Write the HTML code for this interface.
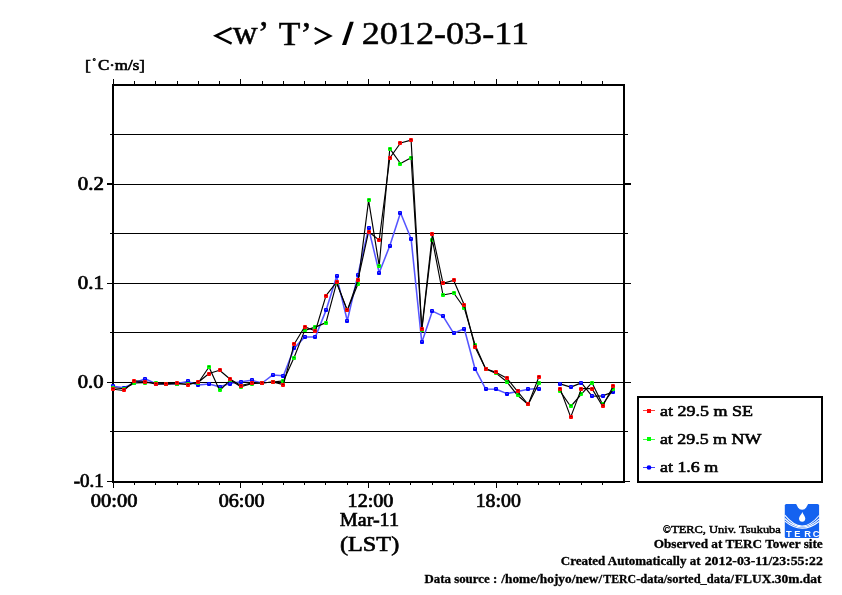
<!DOCTYPE html>
<html><head><meta charset="utf-8"><title>w'T' 2012-03-11</title>
<style>
html,body{margin:0;padding:0;background:#fff;}
body{width:842px;height:595px;overflow:hidden;font-family:"Liberation Serif",serif;}
svg{display:block;}
.t{font-family:"Liberation Serif",serif;fill:#000;stroke:#000;}
</style></head><body>
<svg width="842" height="595" viewBox="0 0 842 595">
<rect width="842" height="595" fill="#fff"/>
<g shape-rendering="crispEdges">
<rect x="113" y="134" width="511" height="1" fill="#000"/>
<rect x="113" y="184" width="511" height="1" fill="#000"/>
<rect x="113" y="233" width="511" height="1" fill="#000"/>
<rect x="113" y="283" width="511" height="1" fill="#000"/>
<rect x="113" y="332" width="511" height="1" fill="#000"/>
<rect x="113" y="382" width="511" height="1" fill="#000"/>
<rect x="113" y="431" width="511" height="1" fill="#000"/>
<rect x="112" y="84" width="2" height="399" fill="#000"/>
<rect x="623" y="84" width="2" height="399" fill="#000"/>
<rect x="112" y="84" width="513" height="2" fill="#000"/>
<rect x="112" y="481" width="513" height="2" fill="#000"/>
<rect x="113" y="79" width="1" height="5" fill="#000"/>
<rect x="113" y="483" width="1" height="5" fill="#000"/>
<rect x="134" y="81" width="1" height="3" fill="#000"/>
<rect x="134" y="483" width="1" height="2" fill="#000"/>
<rect x="155" y="81" width="1" height="3" fill="#000"/>
<rect x="155" y="483" width="1" height="2" fill="#000"/>
<rect x="177" y="81" width="1" height="3" fill="#000"/>
<rect x="177" y="483" width="1" height="2" fill="#000"/>
<rect x="198" y="81" width="1" height="3" fill="#000"/>
<rect x="198" y="483" width="1" height="2" fill="#000"/>
<rect x="219" y="81" width="1" height="3" fill="#000"/>
<rect x="219" y="483" width="1" height="2" fill="#000"/>
<rect x="240" y="79" width="1" height="5" fill="#000"/>
<rect x="240" y="483" width="1" height="5" fill="#000"/>
<rect x="262" y="81" width="1" height="3" fill="#000"/>
<rect x="262" y="483" width="1" height="2" fill="#000"/>
<rect x="283" y="81" width="1" height="3" fill="#000"/>
<rect x="283" y="483" width="1" height="2" fill="#000"/>
<rect x="304" y="81" width="1" height="3" fill="#000"/>
<rect x="304" y="483" width="1" height="2" fill="#000"/>
<rect x="325" y="81" width="1" height="3" fill="#000"/>
<rect x="325" y="483" width="1" height="2" fill="#000"/>
<rect x="347" y="81" width="1" height="3" fill="#000"/>
<rect x="347" y="483" width="1" height="2" fill="#000"/>
<rect x="368" y="79" width="1" height="5" fill="#000"/>
<rect x="368" y="483" width="1" height="5" fill="#000"/>
<rect x="389" y="81" width="1" height="3" fill="#000"/>
<rect x="389" y="483" width="1" height="2" fill="#000"/>
<rect x="410" y="81" width="1" height="3" fill="#000"/>
<rect x="410" y="483" width="1" height="2" fill="#000"/>
<rect x="432" y="81" width="1" height="3" fill="#000"/>
<rect x="432" y="483" width="1" height="2" fill="#000"/>
<rect x="453" y="81" width="1" height="3" fill="#000"/>
<rect x="453" y="483" width="1" height="2" fill="#000"/>
<rect x="474" y="81" width="1" height="3" fill="#000"/>
<rect x="474" y="483" width="1" height="2" fill="#000"/>
<rect x="496" y="79" width="1" height="5" fill="#000"/>
<rect x="496" y="483" width="1" height="5" fill="#000"/>
<rect x="517" y="81" width="1" height="3" fill="#000"/>
<rect x="517" y="483" width="1" height="2" fill="#000"/>
<rect x="538" y="81" width="1" height="3" fill="#000"/>
<rect x="538" y="483" width="1" height="2" fill="#000"/>
<rect x="559" y="81" width="1" height="3" fill="#000"/>
<rect x="559" y="483" width="1" height="2" fill="#000"/>
<rect x="581" y="81" width="1" height="3" fill="#000"/>
<rect x="581" y="483" width="1" height="2" fill="#000"/>
<rect x="602" y="81" width="1" height="3" fill="#000"/>
<rect x="602" y="483" width="1" height="2" fill="#000"/>
<rect x="107" y="481" width="5" height="1" fill="#000"/>
<rect x="625" y="481" width="5" height="1" fill="#000"/>
<rect x="110" y="431" width="2" height="1" fill="#000"/>
<rect x="625" y="431" width="3" height="1" fill="#000"/>
<rect x="107" y="382" width="5" height="1" fill="#000"/>
<rect x="625" y="382" width="6" height="1" fill="#000"/>
<rect x="110" y="332" width="2" height="1" fill="#000"/>
<rect x="625" y="332" width="3" height="1" fill="#000"/>
<rect x="107" y="283" width="5" height="1" fill="#000"/>
<rect x="625" y="283" width="6" height="1" fill="#000"/>
<rect x="110" y="233" width="2" height="1" fill="#000"/>
<rect x="625" y="233" width="3" height="1" fill="#000"/>
<rect x="107" y="183" width="5" height="2" fill="#000"/>
<rect x="625" y="183" width="6" height="2" fill="#000"/>
<rect x="110" y="134" width="2" height="1" fill="#000"/>
<rect x="625" y="134" width="3" height="1" fill="#000"/>
</g>
<g>
<polyline fill="none" stroke="#5555ff" stroke-width="1.55" stroke-linejoin="round" points="113.2,386.2 123.8,387.7 134.5,383.0 145.1,378.7 155.8,383.7 166.4,383.9 177.0,383.5 187.7,381.4 198.3,384.9 209.0,383.9 219.6,386.8 230.2,383.6 240.9,381.8 251.5,380.3 262.2,383.0 272.8,374.9 283.4,375.8 294.1,348.4 304.7,336.9 315.4,336.9 326.0,310.4 336.6,276.4 347.3,320.7 357.9,275.0 368.6,228.3 379.2,272.7 389.8,245.8 400.5,212.7 411.1,238.7 421.8,342.5 432.4,311.1 443.0,316.1 453.7,333.3 464.3,328.7 475.0,368.7 485.6,388.9 496.2,389.2 506.9,393.6 517.5,391.4 528.2,389.2 538.8,388.6"/>
<polyline fill="none" stroke="#000" stroke-width="1.15" stroke-linejoin="round" points="560.1,383.9 570.7,387.1 581.4,382.9 592.0,396.2 602.6,395.9 613.3,391.8"/>
<g shape-rendering="crispEdges"><rect x="111" y="384" width="4" height="4" rx="1.1" fill="#0000ff" shape-rendering="auto"/>
<rect x="112" y="385" width="2" height="1" fill="#3c3cf0"/>
<rect x="122" y="386" width="4" height="4" rx="1.1" fill="#0000ff" shape-rendering="auto"/>
<rect x="123" y="387" width="2" height="1" fill="#3c3cf0"/>
<rect x="132" y="381" width="4" height="4" rx="1.1" fill="#0000ff" shape-rendering="auto"/>
<rect x="133" y="382" width="2" height="1" fill="#3c3cf0"/>
<rect x="143" y="377" width="4" height="4" rx="1.1" fill="#0000ff" shape-rendering="auto"/>
<rect x="144" y="378" width="2" height="1" fill="#3c3cf0"/>
<rect x="154" y="382" width="4" height="4" rx="1.1" fill="#0000ff" shape-rendering="auto"/>
<rect x="155" y="383" width="2" height="1" fill="#3c3cf0"/>
<rect x="164" y="382" width="4" height="4" rx="1.1" fill="#0000ff" shape-rendering="auto"/>
<rect x="165" y="383" width="2" height="1" fill="#3c3cf0"/>
<rect x="175" y="382" width="4" height="4" rx="1.1" fill="#0000ff" shape-rendering="auto"/>
<rect x="176" y="383" width="2" height="1" fill="#3c3cf0"/>
<rect x="186" y="379" width="4" height="4" rx="1.1" fill="#0000ff" shape-rendering="auto"/>
<rect x="187" y="380" width="2" height="1" fill="#3c3cf0"/>
<rect x="196" y="383" width="4" height="4" rx="1.1" fill="#0000ff" shape-rendering="auto"/>
<rect x="197" y="384" width="2" height="1" fill="#3c3cf0"/>
<rect x="207" y="382" width="4" height="4" rx="1.1" fill="#0000ff" shape-rendering="auto"/>
<rect x="208" y="383" width="2" height="1" fill="#3c3cf0"/>
<rect x="218" y="385" width="4" height="4" rx="1.1" fill="#0000ff" shape-rendering="auto"/>
<rect x="219" y="386" width="2" height="1" fill="#3c3cf0"/>
<rect x="228" y="382" width="4" height="4" rx="1.1" fill="#0000ff" shape-rendering="auto"/>
<rect x="229" y="383" width="2" height="1" fill="#3c3cf0"/>
<rect x="239" y="380" width="4" height="4" rx="1.1" fill="#0000ff" shape-rendering="auto"/>
<rect x="240" y="381" width="2" height="1" fill="#3c3cf0"/>
<rect x="250" y="378" width="4" height="4" rx="1.1" fill="#0000ff" shape-rendering="auto"/>
<rect x="251" y="379" width="2" height="1" fill="#3c3cf0"/>
<rect x="260" y="381" width="4" height="4" rx="1.1" fill="#0000ff" shape-rendering="auto"/>
<rect x="261" y="382" width="2" height="1" fill="#3c3cf0"/>
<rect x="271" y="373" width="4" height="4" rx="1.1" fill="#0000ff" shape-rendering="auto"/>
<rect x="272" y="374" width="2" height="1" fill="#3c3cf0"/>
<rect x="281" y="374" width="4" height="4" rx="1.1" fill="#0000ff" shape-rendering="auto"/>
<rect x="282" y="375" width="2" height="1" fill="#3c3cf0"/>
<rect x="292" y="346" width="4" height="4" rx="1.1" fill="#0000ff" shape-rendering="auto"/>
<rect x="293" y="347" width="2" height="1" fill="#3c3cf0"/>
<rect x="303" y="335" width="4" height="4" rx="1.1" fill="#0000ff" shape-rendering="auto"/>
<rect x="304" y="336" width="2" height="1" fill="#3c3cf0"/>
<rect x="313" y="335" width="4" height="4" rx="1.1" fill="#0000ff" shape-rendering="auto"/>
<rect x="314" y="336" width="2" height="1" fill="#3c3cf0"/>
<rect x="324" y="308" width="4" height="4" rx="1.1" fill="#0000ff" shape-rendering="auto"/>
<rect x="325" y="309" width="2" height="1" fill="#3c3cf0"/>
<rect x="335" y="274" width="4" height="4" rx="1.1" fill="#0000ff" shape-rendering="auto"/>
<rect x="336" y="275" width="2" height="1" fill="#3c3cf0"/>
<rect x="345" y="319" width="4" height="4" rx="1.1" fill="#0000ff" shape-rendering="auto"/>
<rect x="346" y="320" width="2" height="1" fill="#3c3cf0"/>
<rect x="356" y="273" width="4" height="4" rx="1.1" fill="#0000ff" shape-rendering="auto"/>
<rect x="357" y="274" width="2" height="1" fill="#3c3cf0"/>
<rect x="367" y="226" width="4" height="4" rx="1.1" fill="#0000ff" shape-rendering="auto"/>
<rect x="368" y="227" width="2" height="1" fill="#3c3cf0"/>
<rect x="377" y="271" width="4" height="4" rx="1.1" fill="#0000ff" shape-rendering="auto"/>
<rect x="378" y="272" width="2" height="1" fill="#3c3cf0"/>
<rect x="388" y="244" width="4" height="4" rx="1.1" fill="#0000ff" shape-rendering="auto"/>
<rect x="389" y="245" width="2" height="1" fill="#3c3cf0"/>
<rect x="398" y="211" width="4" height="4" rx="1.1" fill="#0000ff" shape-rendering="auto"/>
<rect x="399" y="212" width="2" height="1" fill="#3c3cf0"/>
<rect x="409" y="237" width="4" height="4" rx="1.1" fill="#0000ff" shape-rendering="auto"/>
<rect x="410" y="238" width="2" height="1" fill="#3c3cf0"/>
<rect x="420" y="340" width="4" height="4" rx="1.1" fill="#0000ff" shape-rendering="auto"/>
<rect x="421" y="341" width="2" height="1" fill="#3c3cf0"/>
<rect x="430" y="309" width="4" height="4" rx="1.1" fill="#0000ff" shape-rendering="auto"/>
<rect x="431" y="310" width="2" height="1" fill="#3c3cf0"/>
<rect x="441" y="314" width="4" height="4" rx="1.1" fill="#0000ff" shape-rendering="auto"/>
<rect x="442" y="315" width="2" height="1" fill="#3c3cf0"/>
<rect x="452" y="331" width="4" height="4" rx="1.1" fill="#0000ff" shape-rendering="auto"/>
<rect x="453" y="332" width="2" height="1" fill="#3c3cf0"/>
<rect x="462" y="327" width="4" height="4" rx="1.1" fill="#0000ff" shape-rendering="auto"/>
<rect x="463" y="328" width="2" height="1" fill="#3c3cf0"/>
<rect x="473" y="367" width="4" height="4" rx="1.1" fill="#0000ff" shape-rendering="auto"/>
<rect x="474" y="368" width="2" height="1" fill="#3c3cf0"/>
<rect x="484" y="387" width="4" height="4" rx="1.1" fill="#0000ff" shape-rendering="auto"/>
<rect x="485" y="388" width="2" height="1" fill="#3c3cf0"/>
<rect x="494" y="387" width="4" height="4" rx="1.1" fill="#0000ff" shape-rendering="auto"/>
<rect x="495" y="388" width="2" height="1" fill="#3c3cf0"/>
<rect x="505" y="392" width="4" height="4" rx="1.1" fill="#0000ff" shape-rendering="auto"/>
<rect x="506" y="393" width="2" height="1" fill="#3c3cf0"/>
<rect x="516" y="389" width="4" height="4" rx="1.1" fill="#0000ff" shape-rendering="auto"/>
<rect x="517" y="390" width="2" height="1" fill="#3c3cf0"/>
<rect x="526" y="387" width="4" height="4" rx="1.1" fill="#0000ff" shape-rendering="auto"/>
<rect x="527" y="388" width="2" height="1" fill="#3c3cf0"/>
<rect x="537" y="387" width="4" height="4" rx="1.1" fill="#0000ff" shape-rendering="auto"/>
<rect x="538" y="388" width="2" height="1" fill="#3c3cf0"/>
<rect x="558" y="382" width="4" height="4" rx="1.1" fill="#0000ff" shape-rendering="auto"/>
<rect x="559" y="383" width="2" height="1" fill="#3c3cf0"/>
<rect x="569" y="385" width="4" height="4" rx="1.1" fill="#0000ff" shape-rendering="auto"/>
<rect x="570" y="386" width="2" height="1" fill="#3c3cf0"/>
<rect x="579" y="381" width="4" height="4" rx="1.1" fill="#0000ff" shape-rendering="auto"/>
<rect x="580" y="382" width="2" height="1" fill="#3c3cf0"/>
<rect x="590" y="394" width="4" height="4" rx="1.1" fill="#0000ff" shape-rendering="auto"/>
<rect x="591" y="395" width="2" height="1" fill="#3c3cf0"/>
<rect x="601" y="394" width="4" height="4" rx="1.1" fill="#0000ff" shape-rendering="auto"/>
<rect x="602" y="395" width="2" height="1" fill="#3c3cf0"/>
<rect x="611" y="390" width="4" height="4" rx="1.1" fill="#0000ff" shape-rendering="auto"/>
<rect x="612" y="391" width="2" height="1" fill="#3c3cf0"/></g>
<polyline fill="none" stroke="#000" stroke-width="1.15" stroke-linejoin="round" points="113.2,387.7 123.8,388.7 134.5,383.0 145.1,382.7 155.8,382.7 166.4,383.9 177.0,384.0 187.7,383.9 198.3,382.7 209.0,367.0 219.6,390.5 230.2,380.1 240.9,386.8 251.5,383.6 262.2,383.0 272.8,382.0 283.4,380.9 294.1,357.5 304.7,330.4 315.4,327.1 326.0,322.6 336.6,282.9 347.3,310.4 357.9,284.0 368.6,200.4 379.2,265.6 389.8,148.7 400.5,163.5 411.1,157.8 421.8,330.2 432.4,240.0 443.0,295.0 453.7,293.0 464.3,308.0 475.0,344.7 485.6,368.7 496.2,373.4 506.9,381.8 517.5,395.3 528.2,404.5 538.8,383.4"/>
<polyline fill="none" stroke="#000" stroke-width="1.15" stroke-linejoin="round" points="560.1,391.2 570.7,406.5 581.4,394.1 592.0,382.7 602.6,404.5 613.3,389.4"/>
<g shape-rendering="crispEdges"><rect x="111" y="386" width="4" height="4" rx="1.1" fill="#00ff00" shape-rendering="auto"/>
<rect x="112" y="387" width="2" height="1" fill="#00a000"/>
<rect x="122" y="387" width="4" height="4" rx="1.1" fill="#00ff00" shape-rendering="auto"/>
<rect x="123" y="388" width="2" height="1" fill="#00a000"/>
<rect x="132" y="381" width="4" height="4" rx="1.1" fill="#00ff00" shape-rendering="auto"/>
<rect x="133" y="382" width="2" height="1" fill="#00a000"/>
<rect x="143" y="381" width="4" height="4" rx="1.1" fill="#00ff00" shape-rendering="auto"/>
<rect x="144" y="382" width="2" height="1" fill="#00a000"/>
<rect x="154" y="381" width="4" height="4" rx="1.1" fill="#00ff00" shape-rendering="auto"/>
<rect x="155" y="382" width="2" height="1" fill="#00a000"/>
<rect x="164" y="382" width="4" height="4" rx="1.1" fill="#00ff00" shape-rendering="auto"/>
<rect x="165" y="383" width="2" height="1" fill="#00a000"/>
<rect x="175" y="382" width="4" height="4" rx="1.1" fill="#00ff00" shape-rendering="auto"/>
<rect x="176" y="383" width="2" height="1" fill="#00a000"/>
<rect x="186" y="382" width="4" height="4" rx="1.1" fill="#00ff00" shape-rendering="auto"/>
<rect x="187" y="383" width="2" height="1" fill="#00a000"/>
<rect x="196" y="381" width="4" height="4" rx="1.1" fill="#00ff00" shape-rendering="auto"/>
<rect x="197" y="382" width="2" height="1" fill="#00a000"/>
<rect x="207" y="365" width="4" height="4" rx="1.1" fill="#00ff00" shape-rendering="auto"/>
<rect x="208" y="366" width="2" height="1" fill="#00a000"/>
<rect x="218" y="388" width="4" height="4" rx="1.1" fill="#00ff00" shape-rendering="auto"/>
<rect x="219" y="389" width="2" height="1" fill="#00a000"/>
<rect x="228" y="378" width="4" height="4" rx="1.1" fill="#00ff00" shape-rendering="auto"/>
<rect x="229" y="379" width="2" height="1" fill="#00a000"/>
<rect x="239" y="385" width="4" height="4" rx="1.1" fill="#00ff00" shape-rendering="auto"/>
<rect x="240" y="386" width="2" height="1" fill="#00a000"/>
<rect x="250" y="382" width="4" height="4" rx="1.1" fill="#00ff00" shape-rendering="auto"/>
<rect x="251" y="383" width="2" height="1" fill="#00a000"/>
<rect x="260" y="381" width="4" height="4" rx="1.1" fill="#00ff00" shape-rendering="auto"/>
<rect x="261" y="382" width="2" height="1" fill="#00a000"/>
<rect x="271" y="380" width="4" height="4" rx="1.1" fill="#00ff00" shape-rendering="auto"/>
<rect x="272" y="381" width="2" height="1" fill="#00a000"/>
<rect x="281" y="379" width="4" height="4" rx="1.1" fill="#00ff00" shape-rendering="auto"/>
<rect x="282" y="380" width="2" height="1" fill="#00a000"/>
<rect x="292" y="356" width="4" height="4" rx="1.1" fill="#00ff00" shape-rendering="auto"/>
<rect x="293" y="357" width="2" height="1" fill="#00a000"/>
<rect x="303" y="328" width="4" height="4" rx="1.1" fill="#00ff00" shape-rendering="auto"/>
<rect x="304" y="329" width="2" height="1" fill="#00a000"/>
<rect x="313" y="325" width="4" height="4" rx="1.1" fill="#00ff00" shape-rendering="auto"/>
<rect x="314" y="326" width="2" height="1" fill="#00a000"/>
<rect x="324" y="321" width="4" height="4" rx="1.1" fill="#00ff00" shape-rendering="auto"/>
<rect x="325" y="322" width="2" height="1" fill="#00a000"/>
<rect x="335" y="281" width="4" height="4" rx="1.1" fill="#00ff00" shape-rendering="auto"/>
<rect x="336" y="282" width="2" height="1" fill="#00a000"/>
<rect x="345" y="308" width="4" height="4" rx="1.1" fill="#00ff00" shape-rendering="auto"/>
<rect x="346" y="309" width="2" height="1" fill="#00a000"/>
<rect x="356" y="282" width="4" height="4" rx="1.1" fill="#00ff00" shape-rendering="auto"/>
<rect x="357" y="283" width="2" height="1" fill="#00a000"/>
<rect x="367" y="198" width="4" height="4" rx="1.1" fill="#00ff00" shape-rendering="auto"/>
<rect x="368" y="199" width="2" height="1" fill="#00a000"/>
<rect x="377" y="264" width="4" height="4" rx="1.1" fill="#00ff00" shape-rendering="auto"/>
<rect x="378" y="265" width="2" height="1" fill="#00a000"/>
<rect x="388" y="147" width="4" height="4" rx="1.1" fill="#00ff00" shape-rendering="auto"/>
<rect x="389" y="148" width="2" height="1" fill="#00a000"/>
<rect x="398" y="162" width="4" height="4" rx="1.1" fill="#00ff00" shape-rendering="auto"/>
<rect x="399" y="163" width="2" height="1" fill="#00a000"/>
<rect x="409" y="156" width="4" height="4" rx="1.1" fill="#00ff00" shape-rendering="auto"/>
<rect x="410" y="157" width="2" height="1" fill="#00a000"/>
<rect x="420" y="328" width="4" height="4" rx="1.1" fill="#00ff00" shape-rendering="auto"/>
<rect x="421" y="329" width="2" height="1" fill="#00a000"/>
<rect x="430" y="238" width="4" height="4" rx="1.1" fill="#00ff00" shape-rendering="auto"/>
<rect x="431" y="239" width="2" height="1" fill="#00a000"/>
<rect x="441" y="293" width="4" height="4" rx="1.1" fill="#00ff00" shape-rendering="auto"/>
<rect x="442" y="294" width="2" height="1" fill="#00a000"/>
<rect x="452" y="291" width="4" height="4" rx="1.1" fill="#00ff00" shape-rendering="auto"/>
<rect x="453" y="292" width="2" height="1" fill="#00a000"/>
<rect x="462" y="306" width="4" height="4" rx="1.1" fill="#00ff00" shape-rendering="auto"/>
<rect x="463" y="307" width="2" height="1" fill="#00a000"/>
<rect x="473" y="343" width="4" height="4" rx="1.1" fill="#00ff00" shape-rendering="auto"/>
<rect x="474" y="344" width="2" height="1" fill="#00a000"/>
<rect x="484" y="367" width="4" height="4" rx="1.1" fill="#00ff00" shape-rendering="auto"/>
<rect x="485" y="368" width="2" height="1" fill="#00a000"/>
<rect x="494" y="371" width="4" height="4" rx="1.1" fill="#00ff00" shape-rendering="auto"/>
<rect x="495" y="372" width="2" height="1" fill="#00a000"/>
<rect x="505" y="380" width="4" height="4" rx="1.1" fill="#00ff00" shape-rendering="auto"/>
<rect x="506" y="381" width="2" height="1" fill="#00a000"/>
<rect x="516" y="393" width="4" height="4" rx="1.1" fill="#00ff00" shape-rendering="auto"/>
<rect x="517" y="394" width="2" height="1" fill="#00a000"/>
<rect x="526" y="402" width="4" height="4" rx="1.1" fill="#00ff00" shape-rendering="auto"/>
<rect x="527" y="403" width="2" height="1" fill="#00a000"/>
<rect x="537" y="381" width="4" height="4" rx="1.1" fill="#00ff00" shape-rendering="auto"/>
<rect x="538" y="382" width="2" height="1" fill="#00a000"/>
<rect x="558" y="389" width="4" height="4" rx="1.1" fill="#00ff00" shape-rendering="auto"/>
<rect x="559" y="390" width="2" height="1" fill="#00a000"/>
<rect x="569" y="404" width="4" height="4" rx="1.1" fill="#00ff00" shape-rendering="auto"/>
<rect x="570" y="405" width="2" height="1" fill="#00a000"/>
<rect x="579" y="392" width="4" height="4" rx="1.1" fill="#00ff00" shape-rendering="auto"/>
<rect x="580" y="393" width="2" height="1" fill="#00a000"/>
<rect x="590" y="381" width="4" height="4" rx="1.1" fill="#00ff00" shape-rendering="auto"/>
<rect x="591" y="382" width="2" height="1" fill="#00a000"/>
<rect x="601" y="402" width="4" height="4" rx="1.1" fill="#00ff00" shape-rendering="auto"/>
<rect x="602" y="403" width="2" height="1" fill="#00a000"/>
<rect x="611" y="387" width="4" height="4" rx="1.1" fill="#00ff00" shape-rendering="auto"/>
<rect x="612" y="388" width="2" height="1" fill="#00a000"/></g>
<polyline fill="none" stroke="#000" stroke-width="1.15" stroke-linejoin="round" points="113.2,389.3 123.8,390.5 134.5,380.9 145.1,381.5 155.8,384.3 166.4,383.9 177.0,383.0 187.7,384.7 198.3,382.2 209.0,373.5 219.6,370.3 230.2,379.3 240.9,385.5 251.5,383.0 262.2,383.0 272.8,382.0 283.4,384.6 294.1,344.3 304.7,326.7 315.4,331.0 326.0,295.7 336.6,282.1 347.3,310.4 357.9,280.2 368.6,231.7 379.2,240.1 389.8,158.0 400.5,143.0 411.1,140.1 421.8,328.8 432.4,234.0 443.0,283.2 453.7,280.4 464.3,305.0 475.0,346.9 485.6,368.7 496.2,372.4 506.9,378.3 517.5,391.4 528.2,404.5 538.8,377.1"/>
<polyline fill="none" stroke="#000" stroke-width="1.15" stroke-linejoin="round" points="560.1,388.6 570.7,417.1 581.4,388.6 592.0,388.6 602.6,406.2 613.3,385.9"/>
<g shape-rendering="crispEdges"><rect x="111" y="387" width="4" height="4" rx="1.1" fill="#ff0000" shape-rendering="auto"/>
<rect x="112" y="388" width="2" height="1" fill="#a00000"/>
<rect x="122" y="388" width="4" height="4" rx="1.1" fill="#ff0000" shape-rendering="auto"/>
<rect x="123" y="389" width="2" height="1" fill="#a00000"/>
<rect x="132" y="379" width="4" height="4" rx="1.1" fill="#ff0000" shape-rendering="auto"/>
<rect x="133" y="380" width="2" height="1" fill="#a00000"/>
<rect x="143" y="380" width="4" height="4" rx="1.1" fill="#ff0000" shape-rendering="auto"/>
<rect x="144" y="381" width="2" height="1" fill="#a00000"/>
<rect x="154" y="382" width="4" height="4" rx="1.1" fill="#ff0000" shape-rendering="auto"/>
<rect x="155" y="383" width="2" height="1" fill="#a00000"/>
<rect x="164" y="382" width="4" height="4" rx="1.1" fill="#ff0000" shape-rendering="auto"/>
<rect x="165" y="383" width="2" height="1" fill="#a00000"/>
<rect x="175" y="381" width="4" height="4" rx="1.1" fill="#ff0000" shape-rendering="auto"/>
<rect x="176" y="382" width="2" height="1" fill="#a00000"/>
<rect x="186" y="383" width="4" height="4" rx="1.1" fill="#ff0000" shape-rendering="auto"/>
<rect x="187" y="384" width="2" height="1" fill="#a00000"/>
<rect x="196" y="380" width="4" height="4" rx="1.1" fill="#ff0000" shape-rendering="auto"/>
<rect x="197" y="381" width="2" height="1" fill="#a00000"/>
<rect x="207" y="372" width="4" height="4" rx="1.1" fill="#ff0000" shape-rendering="auto"/>
<rect x="208" y="373" width="2" height="1" fill="#a00000"/>
<rect x="218" y="368" width="4" height="4" rx="1.1" fill="#ff0000" shape-rendering="auto"/>
<rect x="219" y="369" width="2" height="1" fill="#a00000"/>
<rect x="228" y="377" width="4" height="4" rx="1.1" fill="#ff0000" shape-rendering="auto"/>
<rect x="229" y="378" width="2" height="1" fill="#a00000"/>
<rect x="239" y="384" width="4" height="4" rx="1.1" fill="#ff0000" shape-rendering="auto"/>
<rect x="240" y="385" width="2" height="1" fill="#a00000"/>
<rect x="250" y="381" width="4" height="4" rx="1.1" fill="#ff0000" shape-rendering="auto"/>
<rect x="251" y="382" width="2" height="1" fill="#a00000"/>
<rect x="260" y="381" width="4" height="4" rx="1.1" fill="#ff0000" shape-rendering="auto"/>
<rect x="261" y="382" width="2" height="1" fill="#a00000"/>
<rect x="271" y="380" width="4" height="4" rx="1.1" fill="#ff0000" shape-rendering="auto"/>
<rect x="272" y="381" width="2" height="1" fill="#a00000"/>
<rect x="281" y="383" width="4" height="4" rx="1.1" fill="#ff0000" shape-rendering="auto"/>
<rect x="282" y="384" width="2" height="1" fill="#a00000"/>
<rect x="292" y="342" width="4" height="4" rx="1.1" fill="#ff0000" shape-rendering="auto"/>
<rect x="293" y="343" width="2" height="1" fill="#a00000"/>
<rect x="303" y="325" width="4" height="4" rx="1.1" fill="#ff0000" shape-rendering="auto"/>
<rect x="304" y="326" width="2" height="1" fill="#a00000"/>
<rect x="313" y="329" width="4" height="4" rx="1.1" fill="#ff0000" shape-rendering="auto"/>
<rect x="314" y="330" width="2" height="1" fill="#a00000"/>
<rect x="324" y="294" width="4" height="4" rx="1.1" fill="#ff0000" shape-rendering="auto"/>
<rect x="325" y="295" width="2" height="1" fill="#a00000"/>
<rect x="335" y="280" width="4" height="4" rx="1.1" fill="#ff0000" shape-rendering="auto"/>
<rect x="336" y="281" width="2" height="1" fill="#a00000"/>
<rect x="345" y="308" width="4" height="4" rx="1.1" fill="#ff0000" shape-rendering="auto"/>
<rect x="346" y="309" width="2" height="1" fill="#a00000"/>
<rect x="356" y="278" width="4" height="4" rx="1.1" fill="#ff0000" shape-rendering="auto"/>
<rect x="357" y="279" width="2" height="1" fill="#a00000"/>
<rect x="367" y="230" width="4" height="4" rx="1.1" fill="#ff0000" shape-rendering="auto"/>
<rect x="368" y="231" width="2" height="1" fill="#a00000"/>
<rect x="377" y="238" width="4" height="4" rx="1.1" fill="#ff0000" shape-rendering="auto"/>
<rect x="378" y="239" width="2" height="1" fill="#a00000"/>
<rect x="388" y="156" width="4" height="4" rx="1.1" fill="#ff0000" shape-rendering="auto"/>
<rect x="389" y="157" width="2" height="1" fill="#a00000"/>
<rect x="398" y="141" width="4" height="4" rx="1.1" fill="#ff0000" shape-rendering="auto"/>
<rect x="399" y="142" width="2" height="1" fill="#a00000"/>
<rect x="409" y="138" width="4" height="4" rx="1.1" fill="#ff0000" shape-rendering="auto"/>
<rect x="410" y="139" width="2" height="1" fill="#a00000"/>
<rect x="420" y="327" width="4" height="4" rx="1.1" fill="#ff0000" shape-rendering="auto"/>
<rect x="421" y="328" width="2" height="1" fill="#a00000"/>
<rect x="430" y="232" width="4" height="4" rx="1.1" fill="#ff0000" shape-rendering="auto"/>
<rect x="431" y="233" width="2" height="1" fill="#a00000"/>
<rect x="441" y="281" width="4" height="4" rx="1.1" fill="#ff0000" shape-rendering="auto"/>
<rect x="442" y="282" width="2" height="1" fill="#a00000"/>
<rect x="452" y="278" width="4" height="4" rx="1.1" fill="#ff0000" shape-rendering="auto"/>
<rect x="453" y="279" width="2" height="1" fill="#a00000"/>
<rect x="462" y="303" width="4" height="4" rx="1.1" fill="#ff0000" shape-rendering="auto"/>
<rect x="463" y="304" width="2" height="1" fill="#a00000"/>
<rect x="473" y="345" width="4" height="4" rx="1.1" fill="#ff0000" shape-rendering="auto"/>
<rect x="474" y="346" width="2" height="1" fill="#a00000"/>
<rect x="484" y="367" width="4" height="4" rx="1.1" fill="#ff0000" shape-rendering="auto"/>
<rect x="485" y="368" width="2" height="1" fill="#a00000"/>
<rect x="494" y="370" width="4" height="4" rx="1.1" fill="#ff0000" shape-rendering="auto"/>
<rect x="495" y="371" width="2" height="1" fill="#a00000"/>
<rect x="505" y="376" width="4" height="4" rx="1.1" fill="#ff0000" shape-rendering="auto"/>
<rect x="506" y="377" width="2" height="1" fill="#a00000"/>
<rect x="516" y="389" width="4" height="4" rx="1.1" fill="#ff0000" shape-rendering="auto"/>
<rect x="517" y="390" width="2" height="1" fill="#a00000"/>
<rect x="526" y="402" width="4" height="4" rx="1.1" fill="#ff0000" shape-rendering="auto"/>
<rect x="527" y="403" width="2" height="1" fill="#a00000"/>
<rect x="537" y="375" width="4" height="4" rx="1.1" fill="#ff0000" shape-rendering="auto"/>
<rect x="538" y="376" width="2" height="1" fill="#a00000"/>
<rect x="558" y="387" width="4" height="4" rx="1.1" fill="#ff0000" shape-rendering="auto"/>
<rect x="559" y="388" width="2" height="1" fill="#a00000"/>
<rect x="569" y="415" width="4" height="4" rx="1.1" fill="#ff0000" shape-rendering="auto"/>
<rect x="570" y="416" width="2" height="1" fill="#a00000"/>
<rect x="579" y="387" width="4" height="4" rx="1.1" fill="#ff0000" shape-rendering="auto"/>
<rect x="580" y="388" width="2" height="1" fill="#a00000"/>
<rect x="590" y="387" width="4" height="4" rx="1.1" fill="#ff0000" shape-rendering="auto"/>
<rect x="591" y="388" width="2" height="1" fill="#a00000"/>
<rect x="601" y="404" width="4" height="4" rx="1.1" fill="#ff0000" shape-rendering="auto"/>
<rect x="602" y="405" width="2" height="1" fill="#a00000"/>
<rect x="611" y="384" width="4" height="4" rx="1.1" fill="#ff0000" shape-rendering="auto"/>
<rect x="612" y="385" width="2" height="1" fill="#a00000"/></g>
</g>
<g shape-rendering="crispEdges">
<rect x="638" y="397" width="184" height="85" fill="#fff" stroke="#000" stroke-width="2"/>
<rect x="643" y="410" width="12" height="1" fill="#ff4040"/>
<rect x="647" y="409" width="4" height="4" fill="#ff0000"/>
<rect x="643" y="439" width="12" height="1" fill="#40ff40"/>
<rect x="647" y="437" width="4" height="4" fill="#00ff00"/>
<rect x="643" y="467" width="12" height="1" fill="#4040ff"/>
<circle cx="649" cy="467.5" r="2.35" fill="#0000ff" shape-rendering="auto"/>
</g>
<g style="opacity:0.999">
<text transform="translate(232.76,44.45) scale(1.0531,1)" font-size="32.77" font-weight="normal" stroke-width="0.5" class="t">w’</text>
<text transform="translate(278.63,44.65) scale(1.0811,1)" font-size="32.77" font-weight="normal" stroke-width="0.5" class="t">T’</text>
<text transform="translate(361.71,44.35) scale(1.1131,1)" font-size="32.48" font-weight="normal" stroke-width="0.5" class="t">2012-03-11</text>
<text transform="translate(85.04,70.08) scale(1.1500,1)" font-size="15.26" font-weight="normal" stroke-width="0.65" class="t">[</text>
<text transform="translate(97.92,70.08) scale(1.1103,1)" font-size="15.26" font-weight="normal" stroke-width="0.65" class="t">C·m/s]</text>
<text transform="translate(77.71,190.45) scale(1.1494,1)" font-size="18.18" font-weight="normal" stroke-width="0.7" class="t">0.2</text>
<text transform="translate(77.71,289.45) scale(1.1494,1)" font-size="18.18" font-weight="normal" stroke-width="0.7" class="t">0.1</text>
<text transform="translate(77.72,388.45) scale(1.1364,1)" font-size="18.18" font-weight="normal" stroke-width="0.7" class="t">0.0</text>
<text transform="translate(73.74,487.45) scale(1.0450,1)" font-size="18.18" font-weight="normal" stroke-width="0.7" class="t">-0.1</text>
<text transform="translate(90.72,506.55) scale(1.1288,1)" font-size="18.18" font-weight="normal" stroke-width="0.7" class="t">00:00</text>
<text transform="translate(218.72,506.55) scale(1.1092,1)" font-size="18.18" font-weight="normal" stroke-width="0.7" class="t">06:00</text>
<text transform="translate(347.62,506.55) scale(1.1069,1)" font-size="18.18" font-weight="normal" stroke-width="0.7" class="t">12:00</text>
<text transform="translate(475.64,506.55) scale(1.0918,1)" font-size="18.18" font-weight="normal" stroke-width="0.7" class="t">18:00</text>
<text transform="translate(339.83,525.57) scale(1.0892,1)" font-size="18.46" font-weight="normal" stroke-width="0.65" class="t">Mar-11</text>
<text transform="translate(339.96,550.67) scale(1.1150,1)" font-size="21.76" font-weight="normal" stroke-width="0.65" class="t">(LST)</text>
<text transform="translate(659.91,415.70) scale(1.1696,1)" font-size="15.43" font-weight="normal" stroke-width="0.6" class="t">at 29.5 m SE</text>
<text transform="translate(659.91,444.10) scale(1.1600,1)" font-size="15.43" font-weight="normal" stroke-width="0.6" class="t">at 29.5 m NW</text>
<text transform="translate(659.91,472.40) scale(1.1660,1)" font-size="15.43" font-weight="normal" stroke-width="0.6" class="t">at 1.6 m</text>
<text transform="translate(663.04,532.57) scale(1.0345,1)" font-size="9.95" font-weight="normal" stroke-width="0.45" class="t">©</text>
<text transform="translate(671.20,532.55) scale(1.1608,1)" font-size="10.68" font-weight="normal" stroke-width="0.5" class="t">TERC, Univ. Tsukuba</text>
<text transform="translate(653.74,548.35) scale(1.1140,1)" font-size="11.87" font-weight="bold" stroke-width="0.3" class="t">Observed at TERC Tower site</text>
<text transform="translate(560.75,565.35) scale(1.0963,1)" font-size="11.87" font-weight="bold" stroke-width="0.3" class="t">Created Automatically at</text>
<text transform="translate(704.71,565.35) scale(1.1644,1)" font-size="11.87" font-weight="bold" stroke-width="0.3" class="t">2012-03-11/23:55:22</text>
<text transform="translate(424.50,582.55) scale(1.0848,1)" font-size="11.87" font-weight="bold" stroke-width="0.3" class="t">Data source :</text>
<text transform="translate(501.28,582.55) scale(1.1247,1)" font-size="11.87" font-weight="bold" stroke-width="0.3" class="t">/home/hojyo/new/</text>
<text transform="translate(603.30,582.55) scale(0.9953,1)" font-size="11.87" font-weight="bold" stroke-width="0.3" class="t">TERC</text>
<text transform="translate(636.14,582.55) scale(1.0516,1)" font-size="11.87" font-weight="bold" stroke-width="0.3" class="t">-data/sorted_data/</text>
<text transform="translate(734.80,582.55) scale(1.1346,1)" font-size="11.87" font-weight="bold" stroke-width="0.3" class="t">FLUX.30m.dat</text>
<polyline points="231.6,28.1 215.8,35.85 231.6,43.6" fill="none" stroke="#000" stroke-width="2.5" stroke-miterlimit="10"/>
<polyline points="314.7,28.0 330.1,35.9 314.7,43.8" fill="none" stroke="#000" stroke-width="2.5" stroke-miterlimit="10"/>
<polygon points="349.9,21.7 353.8,21.7 346.2,45 342.0,45" fill="#000"/>
<circle cx="94.2" cy="59.5" r="1.0" fill="none" stroke="#000" stroke-width="1.1"/>
</g>
<g transform="translate(784.8,503.9)">
<rect x="0" y="0" width="34.3" height="34.1" rx="1.6" fill="#1462f0"/>
<path d="M11.2,-0.2 L13.2,3.6 Q14.6,5.9 17.3,5.9 Q20,5.9 21.4,3.6 L23.4,-0.2 Z" fill="#fff"/>
<path d="M17.6,8.1 C18.2,10.4 20.5,12.4 20.5,14.6 C20.5,16.6 19.2,17.9 17.4,17.9 C15.6,17.9 14.2,16.6 14.2,14.6 C14.2,12.4 16.8,10.4 17.6,8.1 Z" fill="#fff"/>
<path d="M0,11.3 Q17.15,32.7 34.3,11.6" fill="none" stroke="#fff" stroke-width="1.05"/>
<path d="M0,14.6 Q17.15,31.4 34.3,14.9" fill="none" stroke="#fff" stroke-width="1.05"/>
<path d="M0,17.3 Q17.15,31.3 34.3,17.6" fill="none" stroke="#fff" stroke-width="1.05"/>
<g font-size="9.3" font-weight="bold" fill="#fff" text-anchor="middle" style="font-family:'Liberation Sans',sans-serif">
<text x="4.1" y="33.4">T</text><text x="12.5" y="33.4">E</text><text x="22.8" y="33.4">R</text><text x="31.2" y="33.4">C</text></g>
</g>
</svg>
</body></html>
